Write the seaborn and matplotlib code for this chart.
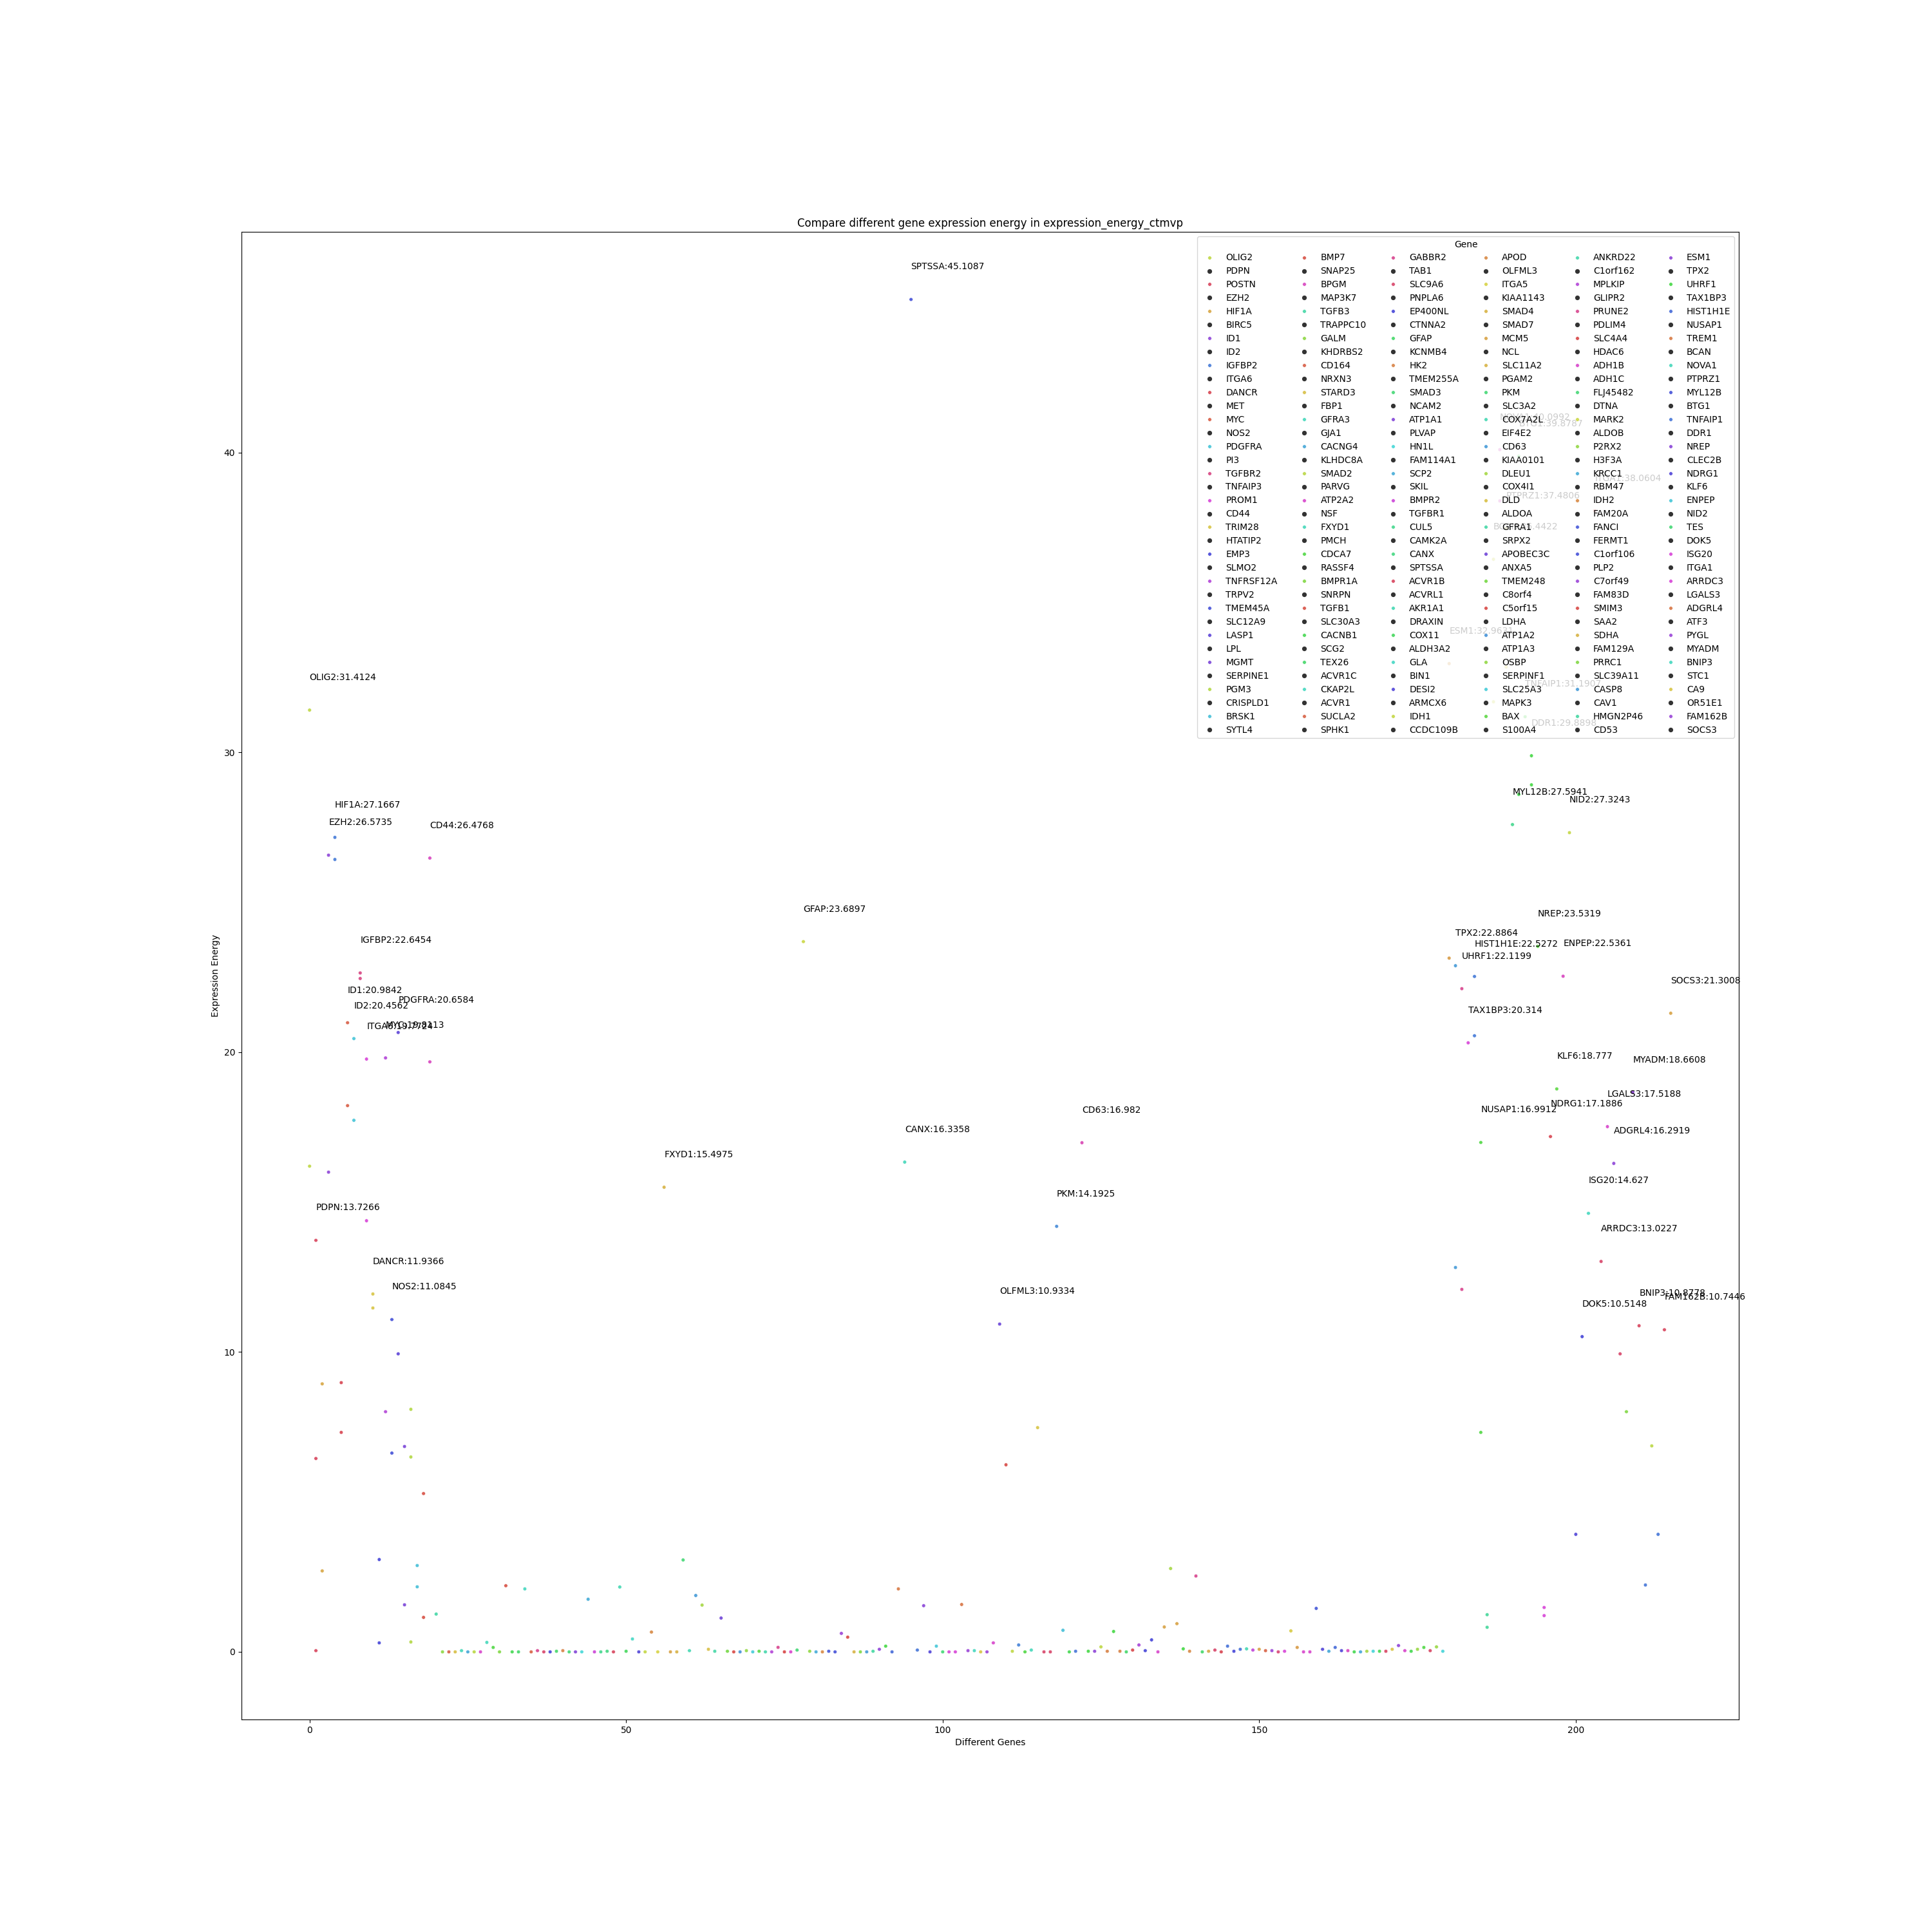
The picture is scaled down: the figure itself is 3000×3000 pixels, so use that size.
import colorsys
import matplotlib
matplotlib.use("Agg")
import matplotlib.pyplot as plt
from matplotlib.lines import Line2D
import pandas as pd
import seaborn as sns

genes = [
    "OLIG2", "PDPN", "POSTN", "EZH2", "HIF1A", "BIRC5", "ID1", "ID2", "IGFBP2", "ITGA6",
    "DANCR", "MET", "MYC", "NOS2", "PDGFRA", "PI3", "TGFBR2", "TNFAIP3", "PROM1", "CD44",
    "TRIM28", "HTATIP2", "EMP3", "SLMO2", "TNFRSF12A", "TRPV2", "TMEM45A", "SLC12A9", "LASP1", "LPL",
    "MGMT", "SERPINE1", "PGM3", "CRISPLD1", "BRSK1", "SYTL4",
    "BMP7", "SNAP25", "BPGM", "MAP3K7", "TGFB3", "TRAPPC10", "GALM", "KHDRBS2", "CD164", "NRXN3",
    "STARD3", "FBP1", "GFRA3", "GJA1", "CACNG4", "KLHDC8A", "SMAD2", "PARVG", "ATP2A2", "NSF",
    "FXYD1", "PMCH", "CDCA7", "RASSF4", "BMPR1A", "SNRPN", "TGFB1", "SLC30A3", "CACNB1", "SCG2",
    "TEX26", "ACVR1C", "CKAP2L", "ACVR1", "SUCLA2", "SPHK1",
    "GABBR2", "TAB1", "SLC9A6", "PNPLA6", "EP400NL", "CTNNA2", "GFAP", "KCNMB4", "HK2", "TMEM255A",
    "SMAD3", "NCAM2", "ATP1A1", "PLVAP", "HN1L", "FAM114A1", "SCP2", "SKIL", "BMPR2", "TGFBR1",
    "CUL5", "CAMK2A", "CANX", "SPTSSA", "ACVR1B", "ACVRL1", "AKR1A1", "DRAXIN", "COX11", "ALDH3A2",
    "GLA", "BIN1", "DESI2", "ARMCX6", "IDH1", "CCDC109B",
    "APOD", "OLFML3", "ITGA5", "KIAA1143", "SMAD4", "SMAD7", "MCM5", "NCL", "SLC11A2", "PGAM2",
    "PKM", "SLC3A2", "COX7A2L", "EIF4E2", "CD63", "KIAA0101", "DLEU1", "COX4I1", "DLD", "ALDOA",
    "GFRA1", "SRPX2", "APOBEC3C", "ANXA5", "TMEM248", "C8orf4", "C5orf15", "LDHA", "ATP1A2", "ATP1A3",
    "OSBP", "SERPINF1", "SLC25A3", "MAPK3", "BAX", "S100A4",
    "ANKRD22", "C1orf162", "MPLKIP", "GLIPR2", "PRUNE2", "PDLIM4", "SLC4A4", "HDAC6", "ADH1B", "ADH1C",
    "FLJ45482", "DTNA", "MARK2", "ALDOB", "P2RX2", "H3F3A", "KRCC1", "RBM47", "IDH2", "FAM20A",
    "FANCI", "FERMT1", "C1orf106", "PLP2", "C7orf49", "FAM83D", "SMIM3", "SAA2", "SDHA", "FAM129A",
    "PRRC1", "SLC39A11", "CASP8", "CAV1", "HMGN2P46", "CD53",
    "ESM1", "TPX2", "UHRF1", "TAX1BP3", "HIST1H1E", "NUSAP1", "TREM1", "BCAN", "NOVA1", "PTPRZ1",
    "MYL12B", "BTG1", "TNFAIP1", "DDR1", "NREP", "CLEC2B", "NDRG1", "KLF6", "ENPEP", "NID2",
    "TES", "DOK5", "ISG20", "ITGA1", "ARRDC3", "LGALS3", "ADGRL4", "ATF3", "PYGL", "MYADM",
    "BNIP3", "STC1", "CA9", "OR51E1", "FAM162B", "SOCS3",
]

# highest expression energy of every gene (x position = gene index)
energy = [
    31.4124, 13.7266, 8.94, 26.5735, 27.1667, 8.98, 20.9842, 20.4562, 22.6454, 19.7724,
    11.9366, 3.08, 19.8113, 11.0845, 20.6584, 6.85, 8.09, 2.88, 5.28, 26.4768,
    1.26, 0, 0, 0, 0.04, 0, 0, 0, 0.315, 0.147,
    0, 2.206, 0, 0, 2.10, 0, 0.04, 0, 0, 0.02,
    0.04, 0, 0, 0, 1.755, 0, 0, 0.02, 0, 2.163,
    0.02, 0.43, 0, 0, 0.66, 0, 15.4975, 0, 0, 3.065,
    0.04, 1.88, 1.56, 0.086, 0.02, 1.128, 0.02, 0, 0, 0.04,
    0, 0.02, 0, 0, 0.15, 0, 0, 0.06, 23.6897, 0.02,
    0, 0, 0.02, 0, 0.616, 0.49, 0, 0, 0, 0.02,
    0.086, 0.19, 0, 2.10, 16.3358, 45.1087, 0.06, 1.54, 0, 0.19,
    0, 0, 0, 1.58, 0.04, 0.04, 0, 0, 0.30, 10.9334,
    6.24, 0.02, 0.23, 0, 0.06, 7.48, 0, 0, 14.1925, 0.72,
    0, 0.02, 16.982, 0.02, 0.02, 0.166, 0.02, 0.68, 0.02, 0,
    0.06, 0.23, 0.04, 0.40, 0, 0.83, 2.78, 0.94, 0.10, 0.02,
    2.53, 0, 0.02, 0.06, 0, 0.19, 0.02, 0.086, 0.10, 0.06,
    0.086, 0.04, 0.04, 0, 0.02, 0.70, 0.147, 0, 0, 1.45,
    0.086, 0.02, 0.147, 0.04, 0.04, 0, 0, 0.02, 0.02, 0.02,
    0.02, 0.086, 0.21, 0.04, 0.02, 0.086, 0.147, 0.04, 0.166, 0.02,
    32.9631, 22.8864, 22.1199, 20.314, 22.5272, 16.9912, 1.24, 36.4422, 40.0992, 37.4806,
    27.5941, 39.8787, 31.1907, 29.8898, 23.5319, 1.48, 17.1886, 18.777, 22.5361, 27.3243,
    3.92, 10.5148, 14.627, 38.0604, 13.0227, 17.5188, 16.2919, 9.94, 8.01, 18.6608,
    10.8778, 2.23, 6.87, 3.92, 10.7446, 21.3008,
]

# further samples of some genes
extra_pos = [0, 1, 1, 2, 3, 4, 5, 6, 7, 8, 9, 10, 11, 12, 13, 14, 15, 16, 16, 17, 18, 19,
             180, 181, 182, 184, 185, 186, 187, 188, 189, 191, 193, 195]
extra_energy = [16.2, 6.45, 0.04, 2.70, 16.0, 26.43, 7.32, 18.22, 17.73, 22.46, 14.38, 11.47,
                0.30, 8.01, 6.63, 9.94, 1.57, 6.50, 0.33, 2.17, 1.15, 19.68,
                23.14, 12.82, 12.09, 20.55, 7.32, 0.82, 31.69, 38.39, 32.85, 28.60, 28.92, 1.21]

# hue (degrees) of each gene's colour
gene_hue = [
    70, 350, 40, 270, 218, 355, 10, 188, 335, 300,
    52, 240, 285, 235, 250, 262, 75, 190, 5, 310,
    160, 90, 10, 50, 168, 200, 72, 305, 168, 115,
    95, 5, 125, 135, 170, 12, 330, 345, 240, 135,
    25, 140, 265, 180, 198, 295, 150, 145, 350, 165,
    130, 172, 245, 68, 28, 58, 45, 38, 45, 140,
    165, 205, 80, 50, 160, 258, 100, 2, 208, 88,
    185, 110, 162, 285, 330, 0, 305, 140, 65, 88,
    198, 28, 232, 235, 275, 2, 45, 95, 205, 158,
    270, 120, 225, 22, 168, 235, 220, 268, 245, 187,
    140, 300, 300, 20, 275, 170, 52, 275, 305, 255,
    2, 70, 215, 115, 168, 52, 345, 345, 212, 190,
    125, 220, 315, 120, 270, 70, 25, 120, 25, 135,
    358, 280, 240, 240, 305, 38, 80, 38, 120, 28,
    330, 135, 40, 345, 355, 222, 240, 222, 165, 290,
    38, 12, 275, 340, 300, 55, 35, 305, 305, 232,
    245, 200, 225, 245, 310, 125, 200, 80, 182, 125,
    348, 52, 270, 305, 125, 85, 115, 348, 85, 182,
    35, 205, 330, 300, 218, 115, 155, 65, 310, 55,
    150, 125, 120, 120, 110, 300, 355, 110, 310, 68,
    245, 240, 170, 0, 345, 305, 270, 345, 95, 270,
    350, 220, 72, 220, 350, 38,
]

palette = {g: colorsys.hls_to_rgb(h / 360, 0.6, 0.65) for g, h in zip(genes, gene_hue)}

df = pd.DataFrame({
    "pos": list(range(len(genes))) + extra_pos,
    "Energy": energy + extra_energy,
    "Gene": genes + [genes[i] for i in extra_pos],
})

fig, ax = plt.subplots(figsize=(30, 30))
sns.scatterplot(data=df, x="pos", y="Energy", hue="Gene", palette=palette,
                s=16, legend=False, ax=ax)

for i, (g, v) in enumerate(zip(genes, energy)):
    if v > 10:
        ax.text(i, v + 1, f"{g}:{round(v, 4)}", fontsize=10)

# legend handles come out interleaved with dark markers
handles = []
for j in range(len(genes)):
    if j % 2 == 0:
        handles.append(Line2D([], [], marker="o", linestyle="", markersize=4.2,
                              color=palette[genes[j // 2]], markeredgecolor="w",
                              markeredgewidth=0.5))
    else:
        handles.append(Line2D([], [], marker="o", linestyle="", markersize=4.2,
                              color=".2"))
ax.legend(handles, genes, title="Gene", ncol=6, loc="upper right")

ax.set_title("Compare different gene expression energy in expression_energy_ctmvp")
ax.set_xlabel("Different Genes")
ax.set_ylabel("Expression Energy")

fig.savefig("out.png", dpi=100)
plt.close(fig)
